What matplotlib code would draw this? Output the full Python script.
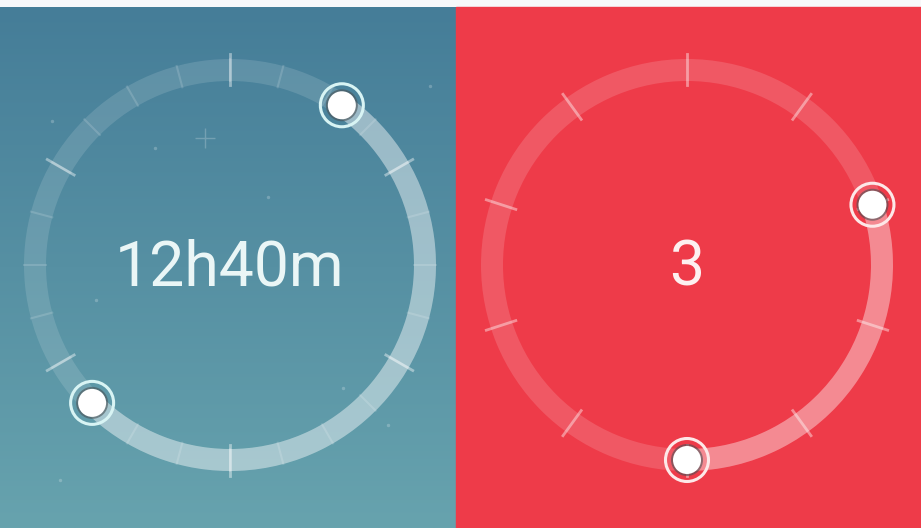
import numpy as np
import matplotlib
matplotlib.use("Agg")
from matplotlib import pyplot as plt
from matplotlib.patches import Wedge, Circle, Rectangle
import matplotlib.colors as mcolors

# left dial: 24h clock, sleep window
sleep_start_h = 2 + 20 / 60
sleep_end_h = 15.0
sleep_label = "12h40m"

# right dial: 10 steps
steps_total = 10
step_start = 2
step_end = 5
step_label = "3"

# faint stars on the blue panel
star_x = [52, 268, 343, 430, 60, 155, 300, 388, 96]
star_y = [121, 197, 388, 86, 480, 148, 255, 425, 300]

W, H = 921, 528
fig = plt.figure(figsize=(W / 100, H / 100), dpi=100)
ax = fig.add_axes([0, 0, 1, 1])
ax.set_xlim(0, W)
ax.set_ylim(H, 0)
ax.set_aspect("equal")
ax.axis("off")
fig.patch.set_facecolor("#f7f8fa")

split = 456
top = 7

# blue gradient
c_top = np.array(mcolors.to_rgb("#457d98"))
c_bot = np.array(mcolors.to_rgb("#67a3ae"))
t = np.linspace(0, 1, 256)[:, None, None]
grad = c_top * (1 - t) + c_bot * t
ax.imshow(grad, extent=(0, split, H, top), origin="upper", aspect="auto", zorder=0)
ax.add_patch(Rectangle((split, top), W - split, H - top, color="#ee3b49", zorder=0))

ax.scatter(star_x, star_y, s=6, color="white", alpha=0.22, lw=0, zorder=1)
ax.plot([205], [138], marker="+", ms=14, mew=1, color="white", alpha=0.22, zorder=1)


def pos(cx, cy, r, clock):
    a = np.deg2rad(clock)
    return cx + r * np.sin(a), cy - r * np.cos(a)


def dial(cx, cy, frac_start, frac_end, n_major, n_minor, label,
         base_alpha, hi_alpha, ring_col, edge_col, text_col):
    r_out, width = 206, 22
    ax.add_patch(Wedge((cx, cy), r_out, 0, 360, width=width,
                       facecolor=ring_col, alpha=base_alpha, lw=0, zorder=2))
    a1 = frac_start * 360
    a2 = frac_end * 360
    ax.add_patch(Wedge((cx, cy), r_out, a1 - 90, a2 - 90, width=width,
                       facecolor=ring_col, alpha=hi_alpha, lw=0, zorder=3))
    # minor ticks across the ring
    if n_minor:
        for k in range(n_minor):
            ang = k * 360 / n_minor
            x0, y0 = pos(cx, cy, r_out - width, ang)
            x1, y1 = pos(cx, cy, r_out, ang)
            ax.plot([x0, x1], [y0, y1], color="white", alpha=0.15, lw=1.5, zorder=4)
    for k in range(n_major):
        ang = k * 360 / n_major
        x0, y0 = pos(cx, cy, r_out - width - 4, ang)
        x1, y1 = pos(cx, cy, r_out + 5, ang)
        ax.plot([x0, x1], [y0, y1], color="white", alpha=0.42, lw=2, zorder=4)
    for f in (frac_start, frac_end):
        hx, hy = pos(cx, cy, r_out - width / 2, f * 360)
        ax.add_patch(Circle((hx, hy), 21.5, facecolor="none", edgecolor=edge_col,
                            lw=2.2, zorder=5))
        ax.add_patch(Circle((hx, hy), 16, facecolor="#4a5256", alpha=0.6, lw=0, zorder=5))
        ax.add_patch(Circle((hx, hy), 14, facecolor="white", lw=0, zorder=6))
    ax.text(cx, cy + 4, label, ha="center", va="center", fontsize=45,
            family="Roboto", color=text_col, zorder=6)


dial(230, 265, sleep_start_h / 24, sleep_end_h / 24, 6, 24, sleep_label,
     0.13, 0.36, "white", "#d8f4f4", "#eaf6f6")
dial(687, 265, step_start / steps_total, step_end / steps_total, steps_total, 0,
     step_label, 0.15, 0.3, "white", "#fde8e8", "#fdf0f0")

fig.savefig("out.png", dpi=100)
